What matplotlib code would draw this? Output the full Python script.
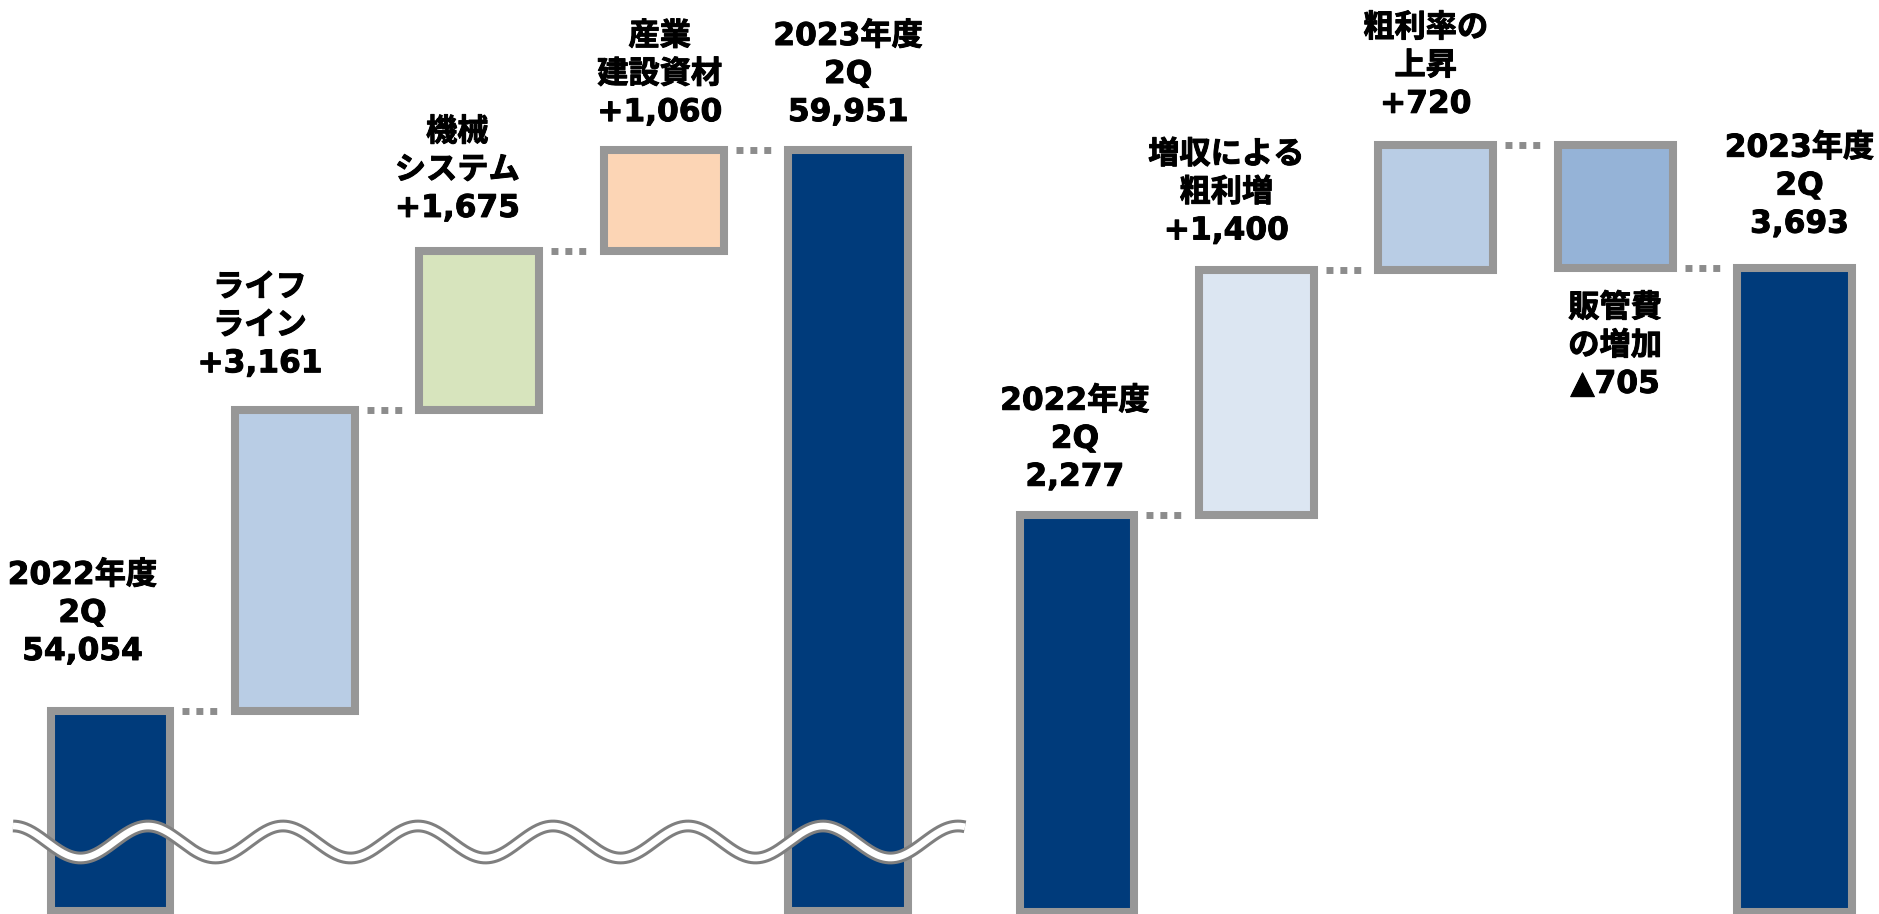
import numpy as np
import matplotlib.pyplot as plt
import matplotlib.patheffects as pe

plt.rcParams['font.family'] = ['DejaVu Sans', 'Noto Sans CJK JP']
plt.rcParams['font.weight'] = 'bold'

# left chart: 売上高
sales_labels = [['2022年度', '2Q', '54,054'],
                ['ライフ', 'ライン', '+3,161'],
                ['機械', 'システム', '+1,675'],
                ['産業', '建設資材', '+1,060'],
                ['2023年度', '2Q', '59,951']]
sales_values = [54054, 3161, 1675, 1060, 59951]
sales_total = [True, False, False, False, True]
sales_colors = ['#003B7B', '#B9CDE5', '#D7E4BD', '#FCD5B5', '#003B7B']

# right chart: 営業利益
profit_labels = [['2022年度', '2Q', '2,277'],
                 ['増収による', '粗利増', '+1,400'],
                 ['粗利率の', '上昇', '+720'],
                 ['販管費', 'の増加', '▲705'],
                 ['2023年度', '2Q', '3,693']]
profit_values = [2277, 1400, 720, -705, 3693]
profit_total = [True, False, False, False, True]
profit_colors = ['#003B7B', '#DCE6F2', '#B9CDE5', '#95B3D7', '#003B7B']

# label offsets in pixels (baseline of last line), below=True puts text under the bar
sales_offsets = [(-28, 51, False), (-35, 38, False), (-22, 34, False), (-4, 29, False), (0, 29, False)]
profit_offsets = [(-2, 29, False), (-30, 31, False), (-10, 32, False), (0, -49, True), (5, 35, False)]

EDGE = '#979797'
DOT = '#8C8C8C'
LINE_STEP = 38
bold_fx = [pe.withStroke(linewidth=0.7, foreground='black')]


def waterfall(ax, values, totals, colors, labels, offsets, floor, width, gap):
    running = 0
    levels = []
    for i, v in enumerate(values):
        if totals[i]:
            bottom, top = floor, v
            running = v
        else:
            bottom, top = running, running + v
            running += v
        ax.bar(i, top - bottom, bottom=bottom, width=width, color=colors[i],
               edgecolor=EDGE, linewidth=5.8, zorder=2)
        levels.append(running)

        dx, dy, below = offsets[i]
        lines = labels[i]
        n = len(lines)
        for j, line in enumerate(lines):
            if below:
                anchor = min(bottom, top)
                off = dy - j * LINE_STEP
            else:
                anchor = max(bottom, top)
                off = dy + (n - 1 - j) * LINE_STEP
            ax.annotate(line, xy=(i, anchor), xytext=(dx, off), textcoords='offset pixels',
                        ha='center', va='baseline', fontsize=22.5, fontweight='bold',
                        color='black', path_effects=bold_fx)

    # dotted connectors
    for i in range(len(values) - 1):
        x0 = i + width / 2 + gap
        x1 = i + 1 - width / 2 - gap
        ax.plot([x0, x1], [levels[i], levels[i]], color=DOT, linewidth=5.0,
                linestyle=(0, (1, 1)), dash_capstyle='butt', zorder=1)


fig = plt.figure(figsize=(18.79, 9.14), dpi=100)

axL = fig.add_axes([0, 0, 970 / 1879, 1])
waterfall(axL, sales_values, sales_total, sales_colors, sales_labels, sales_offsets,
          floor=51950, width=0.65, gap=0.065)
axL.set_xlim(-0.599, 4.661)
axL.set_ylim(51920, 61528)
axL.axis('off')

axR = fig.add_axes([970 / 1879, 0, 909 / 1879, 1])
waterfall(axR, profit_values, profit_total, profit_colors, profit_labels, profit_offsets,
          floor=0, width=0.64, gap=0.067)
axR.set_xlim(-0.596, 4.471)
axR.set_ylim(-11, 5227)
axR.axis('off')

# axis break wave across the left chart
axW = fig.add_axes([0, 0, 1, 1])
axW.set_xlim(0, 1879)
axW.set_ylim(914, 0)
axW.axis('off')
xw = np.linspace(13, 965, 800)
yw = 842 - 16 * np.cos(2 * np.pi * (xw - 13) / 135)
axW.plot(xw, yw, color='#7F7F7F', linewidth=9.2, solid_capstyle='butt')
axW.plot(xw, yw, color='white', linewidth=4.8, solid_capstyle='butt')

fig.savefig('out.png', dpi=100)
